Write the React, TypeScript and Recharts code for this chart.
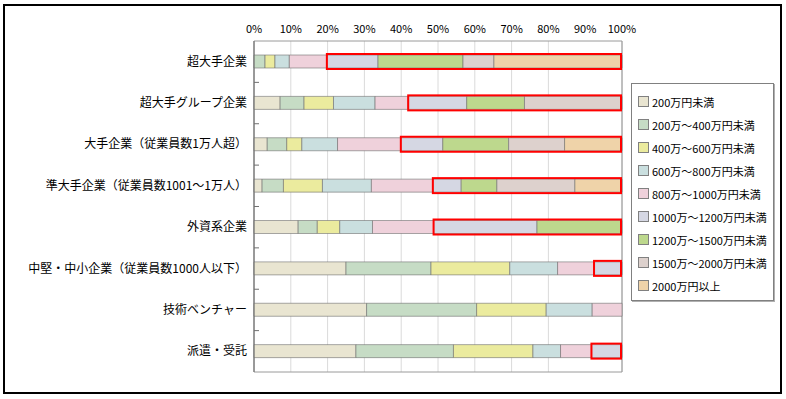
import React from "react";
import {
  BarChart,
  Bar,
  XAxis,
  YAxis,
  CartesianGrid,
  Legend,
  ReferenceArea,
} from "recharts";

const categories = [
  "超大手企業",
  "超大手グループ企業",
  "大手企業（従業員数1万人超）",
  "準大手企業（従業員数1001～1万人）",
  "外資系企業",
  "中堅・中小企業（従業員数1000人以下）",
  "技術ベンチャー",
  "派遣・受託",
];

const seriesNames = [
  "200万円未満",
  "200万～400万円未満",
  "400万～600万円未満",
  "600万～800万円未満",
  "800万～1000万円未満",
  "1000万～1200万円未満",
  "1200万～1500万円未満",
  "1500万～2000万円未満",
  "2000万円以上",
];

// share (%) per category, one array per income band
const under200 = [0, 7.1, 3.6, 2.2, 12.0, 25.0, 30.6, 27.7];
const from200to400 = [3.0, 6.5, 5.3, 5.8, 5.2, 23.1, 29.9, 26.5];
const from400to600 = [2.7, 8.0, 4.1, 10.6, 6.1, 21.4, 18.9, 21.6];
const from600to800 = [3.9, 11.3, 9.7, 13.3, 8.9, 13.0, 12.5, 7.5];
const from800to1000 = [10.2, 9.0, 17.2, 16.7, 16.6, 9.9, 8.1, 8.4];
const from1000to1200 = [13.9, 15.9, 11.4, 7.7, 28.1, 7.6, 0, 8.3];
const from1200to1500 = [23.1, 15.7, 17.9, 9.7, 23.1, 0, 0, 0];
const from1500to2000 = [8.4, 26.5, 15.2, 21.2, 0, 0, 0, 0];
const over2000 = [34.8, 0, 15.6, 12.8, 0, 0, 0, 0];

// rows whose 1000万+ part is boxed in red
const highlighted = [true, true, true, true, true, true, false, true];

const xTicks = [0, 10, 20, 30, 40, 50, 60, 70, 80, 90, 100];

const seriesValues = [
  under200,
  from200to400,
  from400to600,
  from600to800,
  from800to1000,
  from1000to1200,
  from1200to1500,
  from1500to2000,
  over2000,
];

const colors = [
  "#e9e5d1",
  "#c6dcc5",
  "#ebeb9e",
  "#cadfdf",
  "#efd1db",
  "#d5d7e3",
  "#bdd88d",
  "#ddd1cd",
  "#efd3a9",
];

const keys = seriesNames.map((_, i) => `s${i}`);

const data = categories.map((name, r) => {
  const row: Record<string, any> = { name };
  seriesValues.forEach((vals, i) => {
    row[keys[i]] = vals[r];
  });
  const low = seriesValues.slice(0, 5).reduce((a, v) => a + v[r], 0);
  const high = seriesValues.slice(5).reduce((a, v) => a + v[r], 0);
  row.hlBase = highlighted[r] ? low : 0;
  row.hlBox = highlighted[r] ? high : 0;
  return row;
});

const FONT = '"Noto Sans CJK JP", "Noto Sans", sans-serif';
const HALF_BAND = 20.7;

const CategoryTick = (props: any) => {
  const { x, y, payload, index } = props;
  return (
    <g>
      {index > 0 && (
        <line x1={x + 7} y1={y - HALF_BAND} x2={x + 12} y2={y - HALF_BAND} stroke="#707070" />
      )}
      <text x={x} y={y} dy={4} textAnchor="end" fontSize={12} fill="#000" fontFamily={FONT}>
        {payload.value}
      </text>
    </g>
  );
};

const RedBox = (props: any) => {
  const { x, y, width, height } = props;
  if (!width || width <= 0) return null;
  return (
    <rect
      x={x}
      y={y - 1}
      width={width - 1}
      height={height + 2}
      fill="none"
      stroke="#ff0000"
      strokeWidth={2}
    />
  );
};

// legend in series order, same names and colours as the bars
const LegendBox = () => (
  <div
    style={{
      width: 143,
      height: 218,
      boxSizing: "border-box",
      border: "1px solid #808080",
      boxShadow: "1px 1px 0 #b0b0b0",
      background: "#fff",
      paddingTop: 6,
      fontFamily: FONT,
      fontSize: 11,
      color: "#000",
    }}
  >
    {seriesNames.map((name, i) => (
      <div
        key={name}
        style={{ display: "flex", alignItems: "center", height: 23, paddingLeft: 6 }}
      >
        <span
          style={{
            display: "inline-block",
            width: 9,
            height: 9,
            border: "1px solid #808080",
            background: colors[i],
            marginRight: 3,
          }}
        />
        <span>{name}</span>
      </div>
    ))}
  </div>
);

export default function App() {
  return (
    <div
      style={{
        position: "absolute",
        left: 0,
        top: 0,
        width: 786,
        height: 399,
        background: "#fff",
        fontFamily: FONT,
      }}
    >
      <div
        style={{
          position: "absolute",
          left: 3,
          top: 4,
          width: 779,
          height: 390,
          border: "2px solid #000",
          boxSizing: "border-box",
        }}
      />
      <div style={{ position: "absolute", left: 0, top: 0 }}>
        <BarChart
          width={786}
          height={399}
          data={data}
          layout="vertical"
          margin={{ top: 11, right: 164, bottom: 27, left: 4 }}
        >
          <CartesianGrid horizontal={false} stroke="#dadada" />
          <XAxis
            type="number"
            orientation="top"
            domain={[0, 100]}
            ticks={xTicks}
            tickFormatter={(v) => `${v}%`}
            axisLine={false}
            tickLine={false}
            tickSize={0}
            tickMargin={8}
            height={30}
            tick={{ fontSize: 11, fill: "#000", fontFamily: FONT }}
          />
          <YAxis
            type="category"
            dataKey="name"
            width={250}
            axisLine={{ stroke: "#707070" }}
            tickLine={false}
            tickSize={0}
            tickMargin={7}
            tick={<CategoryTick />}
            interval={0}
          />
          <YAxis yAxisId="hl" type="category" dataKey="name" hide />
          <ReferenceArea x1={0} x2={100} fill="none" stroke="#9a9a9a" />
          {keys.map((k, i) => (
            <Bar
              key={k}
              dataKey={k}
              name={seriesNames[i]}
              stackId="a"
              fill={colors[i]}
              stroke="#6e6e6e"
              strokeWidth={0.6}
              barSize={13}
              isAnimationActive={false}
            />
          ))}
          <Bar
            yAxisId="hl"
            dataKey="hlBase"
            stackId="hl"
            fill="none"
            legendType="none"
            barSize={13}
            isAnimationActive={false}
          />
          <Bar
            yAxisId="hl"
            dataKey="hlBox"
            stackId="hl"
            shape={<RedBox />}
            legendType="none"
            barSize={13}
            isAnimationActive={false}
          />
          <Legend
            layout="vertical"
            align="center"
            verticalAlign="middle"
            content={<LegendBox />}
            wrapperStyle={{ position: "absolute", left: 631, top: 83, width: 143, height: 218 }}
          />
        </BarChart>
      </div>
    </div>
  );
}
